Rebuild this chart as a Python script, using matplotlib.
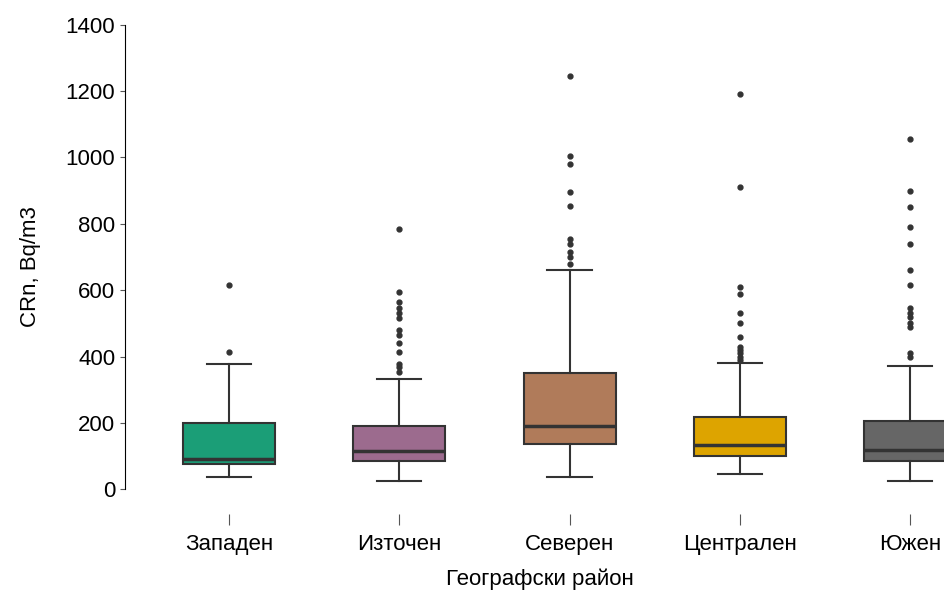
import matplotlib
matplotlib.use("Agg")
import matplotlib.pyplot as plt

plt.rcParams["font.family"] = ["Liberation Sans", "DejaVu Sans"]

regions = ["Западен", "Източен", "Северен", "Централен", "Южен"]
whislo = [38, 25, 38, 45, 25]
q1 = [75, 85, 138, 100, 85]
med = [93, 115, 192, 135, 120]
q3 = [200, 192, 350, 218, 207]
whishi = [378, 333, 660, 380, 372]
fliers = [
    [415, 615],
    [355, 368, 378, 415, 440, 465, 480, 515, 530, 545, 565, 595, 785],
    [680, 700, 715, 740, 755, 855, 895, 980, 1005, 1245],
    [390, 400, 410, 420, 430, 460, 500, 530, 590, 610, 910, 1190],
    [400, 410, 490, 500, 520, 530, 545, 615, 660, 740, 790, 850, 900, 1055],
]
colors = ["#1b9e77", "#9c6b8e", "#b07b5a", "#dda400", "#666666"]

stats = [dict(label=r, whislo=a, q1=b, med=c, q3=d, whishi=e, fliers=f)
         for r, a, b, c, d, e, f in zip(regions, whislo, q1, med, q3, whishi, fliers)]

fig, ax = plt.subplots(figsize=(9.51, 5.98), dpi=100)
edge = "#333333"
bp = ax.bxp(stats, patch_artist=True, widths=0.54,
            boxprops=dict(edgecolor=edge, linewidth=1.5),
            medianprops=dict(color=edge, linewidth=2.5),
            whiskerprops=dict(color=edge, linewidth=1.5),
            capprops=dict(color=edge, linewidth=1.5),
            flierprops=dict(marker="o", markerfacecolor=edge, markeredgecolor=edge, markersize=3.5))
for p, c in zip(bp["boxes"], colors):
    p.set_facecolor(c)
for cap in bp["caps"]:
    x = cap.get_xdata()
    m = (x[0] + x[1]) / 2
    cap.set_xdata([m - 0.13, m + 0.13])

ax.set_ylim(-75, 1420)
ax.set_xlim(0.455, 5.2)
ax.set_yticks(range(0, 1401, 200))
ax.spines["left"].set_bounds(0, 1400)
for s in ["top", "right", "bottom"]:
    ax.spines[s].set_visible(False)
ax.spines["left"].set_position(("outward", 8))
ax.tick_params(axis="both", labelsize=16, color="#555555")
ax.tick_params(axis="x", length=8, pad=6)
ax.set_ylabel("CRn, Bq/m3", fontsize=16, labelpad=18)
ax.set_xlabel("Географски район", fontsize=16, labelpad=10)

plt.subplots_adjust(left=0.143, right=0.993, top=0.97, bottom=0.14)
plt.savefig("out.png")
